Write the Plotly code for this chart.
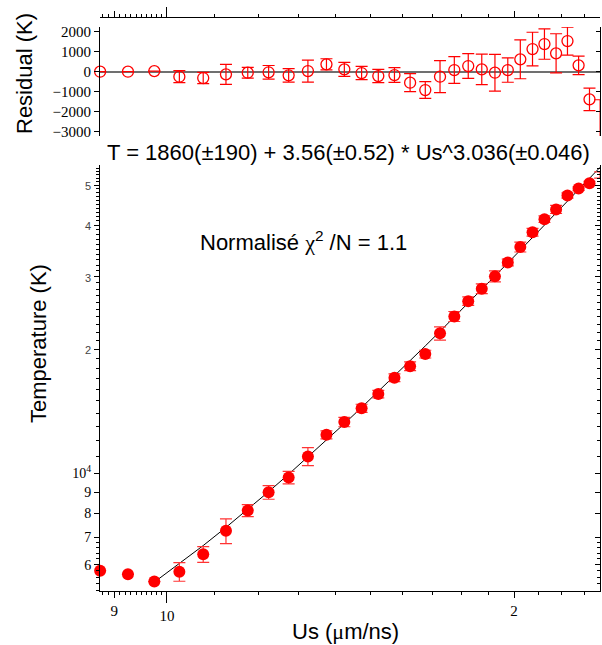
import numpy as np
import plotly.graph_objects as go

# ---------------- data ----------------
us = [8.75, 9.25, 9.75, 10.25, 10.75, 11.25, 11.75, 12.25, 12.75, 13.25, 13.75,
      14.25, 14.75, 15.25, 15.75, 16.25, 16.75, 17.25, 17.75, 18.25, 18.75,
      19.25, 19.75, 20.25, 20.75, 21.25, 21.75, 22.25, 22.75, 23.25, 23.75]
temperature = [5800, 5690, 5460, 5770, 6360, 7250, 8120, 8990, 9770, 10990, 12400,
               13320, 14380, 15570, 17060, 18200, 19470, 21860, 24030, 26170, 28060,
               30060, 32480, 35420, 38470, 41380, 43700, 47240, 49090, 50590, 52990]
residual = [0, 0, 30, -250, -317, -133, -50, -30, -183, 33, 367,
            117, -67, -217, -167, -550, -917, -250, 83, 283, 117,
            -50, 83, 617, 1133, 1383, 917, 1533, 317, -1383, -2333]
error = [None, None, None, 300, 280, 500, 270, 340, 340, 550, 280,
         350, 330, 330, 370, 450, 420, 800, 670, 620, 760,
         920, 610, 970, 840, 760, 980, 700, 460, 560, 930]

# fit parameters (from the chart title)
FIT_A, FIT_B, FIT_C = 1860.0, 3.56, 3.036
FIT_START = 2  # fit applies from Us = 9.75

resid_ticks = [2000, 1000, 0, -1000, -2000, -3000]
temp_major = [6000, 7000, 8000, 9000, 10000, 20000, 30000, 40000, 50000]
SANS_LBL = '<span style="font-family:Liberation Sans;font-size:11px;color:#444">{}</span>'
temp_major_text = ["6", "7", "8", "9", "10<sup>4</sup>",
                   SANS_LBL.format("2"), SANS_LBL.format("3"),
                   SANS_LBL.format("4"), SANS_LBL.format("5")]
temp_minor = [5200, 5400, 5600, 5800, 6200, 6400, 6600, 6800] + \
             [v for v in range(11000, 56000, 1000) if v not in (20000, 30000, 40000, 50000)]
us_minor = [round(8.8 + 0.1 * i, 1) for i in range(12) if round(8.8 + 0.1 * i, 1) != 9.0] + \
           [v for v in range(11, 24) if v != 20]

# ---------------- geometry ----------------
W, H = 602, 645
def px(x):
    return x / W
def py(y):
    return 1 - y / H

XR = [0.9419, 1.37554]
X_DOM = [px(100), px(600)]
Y_BOT_DOM = [py(591), py(165)]
Y_TOP_DOM = [py(136), py(27)]
Y_BOT_RANGE = [3.7143, 4.7483]
Y_TOP_RANGE = [-3215, 2235]
TOP_AXIS_POS = py(17)

fit_us = np.array(us[FIT_START:])
fit_t = FIT_A + FIT_B * fit_us ** FIT_C

RED = "#ff0000"
fig = go.Figure()

# residuals
fig.add_trace(go.Scatter(
    x=us, y=residual, xaxis="x2", yaxis="y2", mode="markers",
    marker=dict(symbol="circle-open", size=11, color=RED, line=dict(width=1.3, color=RED)),
    error_y=dict(type="data", array=error, color=RED, thickness=1.2, width=6),
    cliponaxis=False, showlegend=False, hoverinfo="skip"))

# fit line
fig.add_trace(go.Scatter(
    x=fit_us, y=fit_t, xaxis="x", yaxis="y", mode="lines",
    line=dict(color="black", width=1), showlegend=False, hoverinfo="skip"))

# temperature points
fig.add_trace(go.Scatter(
    x=us, y=temperature, xaxis="x", yaxis="y", mode="markers",
    marker=dict(symbol="circle", size=12, color=RED, line=dict(width=0)),
    error_y=dict(type="data", array=error, color="#ff3333", thickness=1.2, width=6),
    cliponaxis=False, showlegend=False, hoverinfo="skip"))

# dummy invisible traces so overlay axes render
for xa, ya, yv in [("x3", "y", 10000), ("x", "y3", 10000), ("x4", "y2", 0), ("x2", "y4", 0)]:
    fig.add_trace(go.Scatter(x=[10], y=[yv], xaxis=xa, yaxis=ya, mode="markers",
                             marker=dict(opacity=0, size=1), showlegend=False, hoverinfo="skip"))

TICKFONT = dict(family="Liberation Serif", size=15, color="black")
minor_x = dict(tickvals=us_minor, ticklen=3, ticks="outside", tickcolor="black", showgrid=False)

common_x = dict(type="log", range=XR, domain=X_DOM, showgrid=False, zeroline=False, automargin=False)

fig.update_layout(
    width=W, height=H, margin=dict(l=0, r=0, t=0, b=0, autoexpand=False),
    paper_bgcolor="white", plot_bgcolor="white",
    xaxis=dict(**common_x, anchor="y", showline=True, linecolor="black", linewidth=1,
               ticks="outside", tickvals=[9, 20], ticktext=["9", "2"], ticklen=6,
               tickcolor="black", tickfont=TICKFONT, minor=minor_x),
    xaxis3=dict(**common_x, anchor="y", overlaying="x", side="bottom", showline=False,
                ticks="outside", tickvals=[10], ticktext=["10"], ticklen=11,
                tickcolor="black", tickfont=TICKFONT),
    yaxis=dict(type="log", range=Y_BOT_RANGE, domain=Y_BOT_DOM, anchor="x", automargin=False,
               showline=True, linecolor="black", linewidth=1, showgrid=False, zeroline=False,
               ticks="outside", tickvals=temp_major, ticktext=temp_major_text, ticklen=5,
               tickcolor="black", tickfont=dict(family="Liberation Serif", size=14, color="black"),
               minor=dict(tickvals=temp_minor, ticklen=3, ticks="outside", tickcolor="black",
                          showgrid=False)),
    yaxis3=dict(type="log", range=Y_BOT_RANGE, domain=Y_BOT_DOM, anchor="x", overlaying="y",
                automargin=False,
                side="right", showline=True, linecolor="black", linewidth=1, showgrid=False,
                zeroline=False, ticks="inside", tickvals=temp_major, ticklen=5,
                tickcolor="black", showticklabels=False,
                minor=dict(tickvals=temp_minor, ticklen=3, ticks="inside", tickcolor="black",
                           showgrid=False)),
    xaxis2=dict(**common_x, anchor="free", position=TOP_AXIS_POS, side="top",
                showline=True, linecolor="black", linewidth=1,
                ticks="outside", tickvals=[9, 20], ticklen=6, tickcolor="black",
                showticklabels=False, minor=minor_x),
    xaxis4=dict(**common_x, anchor="free", position=TOP_AXIS_POS, side="top", overlaying="x2",
                showline=False, ticks="outside", tickvals=[10], ticklen=10, tickcolor="black",
                showticklabels=False),
    yaxis2=dict(range=Y_TOP_RANGE, domain=Y_TOP_DOM, anchor="x2", showline=True, automargin=False,
                linecolor="black", linewidth=1, showgrid=False,
                zeroline=True, zerolinecolor="#707070", zerolinewidth=1.6,
                ticks="outside", tickvals=resid_ticks, ticklen=5, tickcolor="black",
                tickfont=dict(family="Liberation Serif", size=15, color="black")),
    yaxis4=dict(range=Y_TOP_RANGE, domain=Y_TOP_DOM, anchor="x2", overlaying="y2", side="right",
                automargin=False,
                showline=True, linecolor="black", linewidth=1, showgrid=False, zeroline=False,
                ticks="inside", tickvals=resid_ticks, ticklen=4, tickcolor="black",
                showticklabels=False),
)

SANS = "Liberation Sans"
ann = [
    dict(text="T = 1860(±190) + 3.56(±0.52) * Us^3.036(±0.046)", x=px(348), y=py(152), size=22, angle=0),
    dict(text='Normalisé <span style="font-family:Liberation Serif">χ</span><sup>2</sup> /N = 1.1',
         x=px(303), y=py(241), size=22, angle=0),
    dict(text="Residual (K)", x=px(24), y=py(74), size=22, angle=-90),
    dict(text="Temperature (K)", x=px(38), y=py(344), size=22, angle=-90),
    dict(text='Us (<span style="font-family:Liberation Serif">μ</span>m/ns)', x=px(345), y=py(631), size=22, angle=0),
]
for a in ann:
    fig.add_annotation(text=a["text"], x=a["x"], y=a["y"], xref="paper", yref="paper",
                       xanchor="center", yanchor="middle", showarrow=False, textangle=a["angle"],
                       font=dict(family=SANS, size=a["size"], color="black"))

fig.write_html("out.html", config={"responsive": False, "displayModeBar": False},
               post_script="document.documentElement.style.margin='0';"
                           "document.body.style.margin='0';document.body.style.padding='0';"
                           "document.body.style.overflow='hidden';")
